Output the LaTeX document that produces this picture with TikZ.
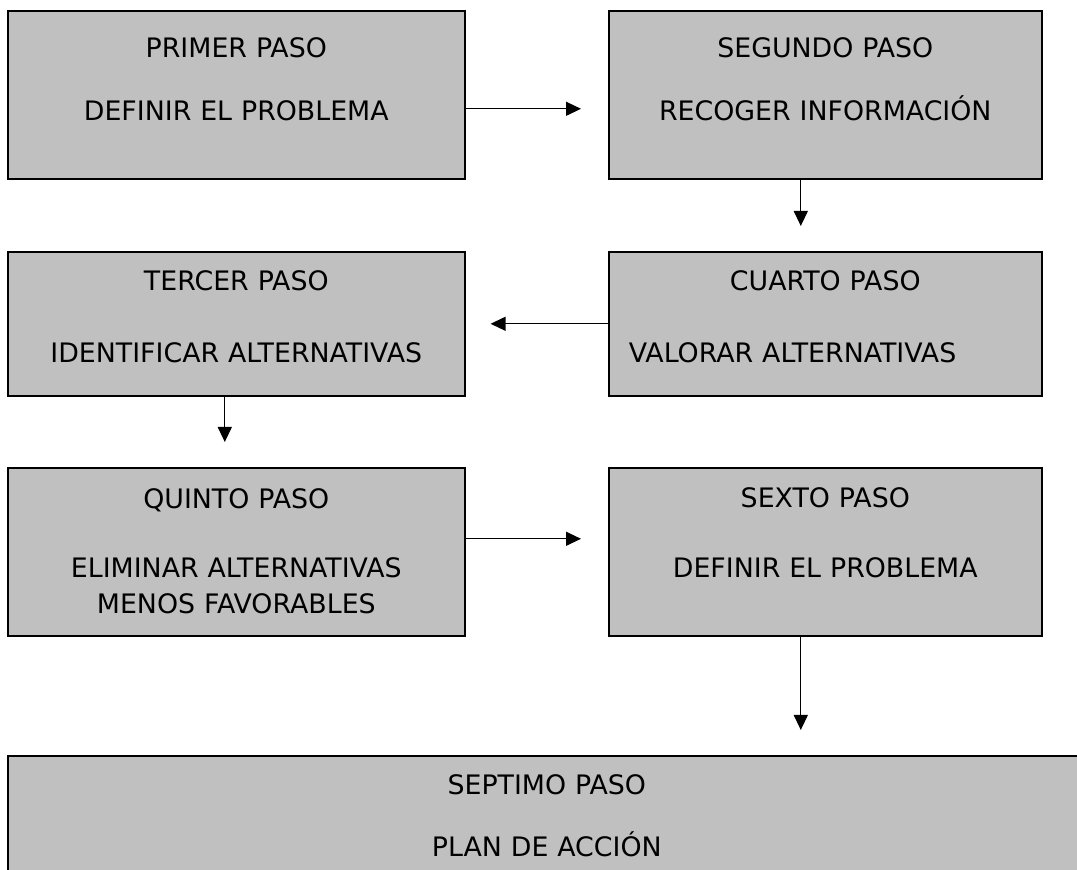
\documentclass[tikz,border=0pt]{standalone}
\usepackage{fontspec}
\setmainfont{DejaVu Sans}
\usetikzlibrary{arrows.meta}
\definecolor{gris}{HTML}{C0C0C0}
\tikzset{
  paso/.style={draw, line width=0.8pt, fill=gris, anchor=north west,
    inner xsep=10pt, inner ysep=0pt, align=center,
    font=\fontsize{13.4pt}{18pt}\selectfont},
  flecha/.style={-{Triangle[length=7.5pt,width=7pt]}, line width=0.65pt},
}
\begin{document}
\begin{tikzpicture}[x=0.5pt,y=-0.5pt]
      \useasboundingbox (0,0) rectangle (1077,870);
      \clip (0,0) rectangle (1077,870);
      \node[paso, text width=208.5pt, text height=23.25pt, text depth=60.75pt] (p1) at (7,10)
        {PRIMER PASO\\[13.5pt]DEFINIR EL PROBLEMA};
      \node[paso, text width=196.5pt, text height=23.25pt, text depth=60.75pt] (p2) at (608,10)
        {SEGUNDO PASO\\[13.5pt]RECOGER INFORMACIÓN};
      \node[paso, text width=208.5pt, text height=19.5pt, text depth=52.5pt] (p3) at (7,251)
        {TERCER PASO\\[18pt]IDENTIFICAR ALTERNATIVAS};
      \node[paso, text width=196.5pt, text height=19.5pt, text depth=52.5pt] (p4) at (608,251)
        {CUARTO PASO\\[18pt]\makebox[\linewidth][l]{VALORAR ALTERNATIVAS}};
      \node[paso, text width=208.5pt, text height=20.25pt, text depth=63.75pt] (p5) at (7,467)
        {QUINTO PASO\\[16.5pt]ELIMINAR ALTERNATIVAS\\MENOS FAVORABLES};
      \node[paso, text width=196.5pt, text height=20pt, text depth=64pt] (p6) at (608,467)
        {SEXTO PASO\\[17pt]DEFINIR EL PROBLEMA};
      \node[paso, text width=519pt, text height=19.25pt, text depth=53.25pt] (p7) at (7,755)
        {SEPTIMO PASO\\[13pt]PLAN DE ACCIÓN};
      \coordinate (c6) at ([xshift=-12.25pt]p6.south);
      \begin{scope}[flecha]
        \draw[shorten >=13.5pt] ([yshift=-7pt]p1.east) to ([yshift=-7pt]p2.west);
        \draw[shorten >=12.5pt] ([xshift=-12.25pt]p2.south) to ([xshift=-12.25pt]p4.north);
        \draw[shorten >=12.5pt] (p4.west) to (p3.east);
        \draw[shorten >=12.5pt] ([xshift=-5.75pt]p3.south) to ([xshift=-5.75pt]p5.north);
        \draw[shorten >=13.5pt] ([yshift=6.5pt]p5.east) to ([yshift=6.5pt]p6.west);
        \draw[shorten >=12.5pt] (c6) to (c6 |- p7.north);
      \end{scope}
    \end{tikzpicture}
\end{document}
